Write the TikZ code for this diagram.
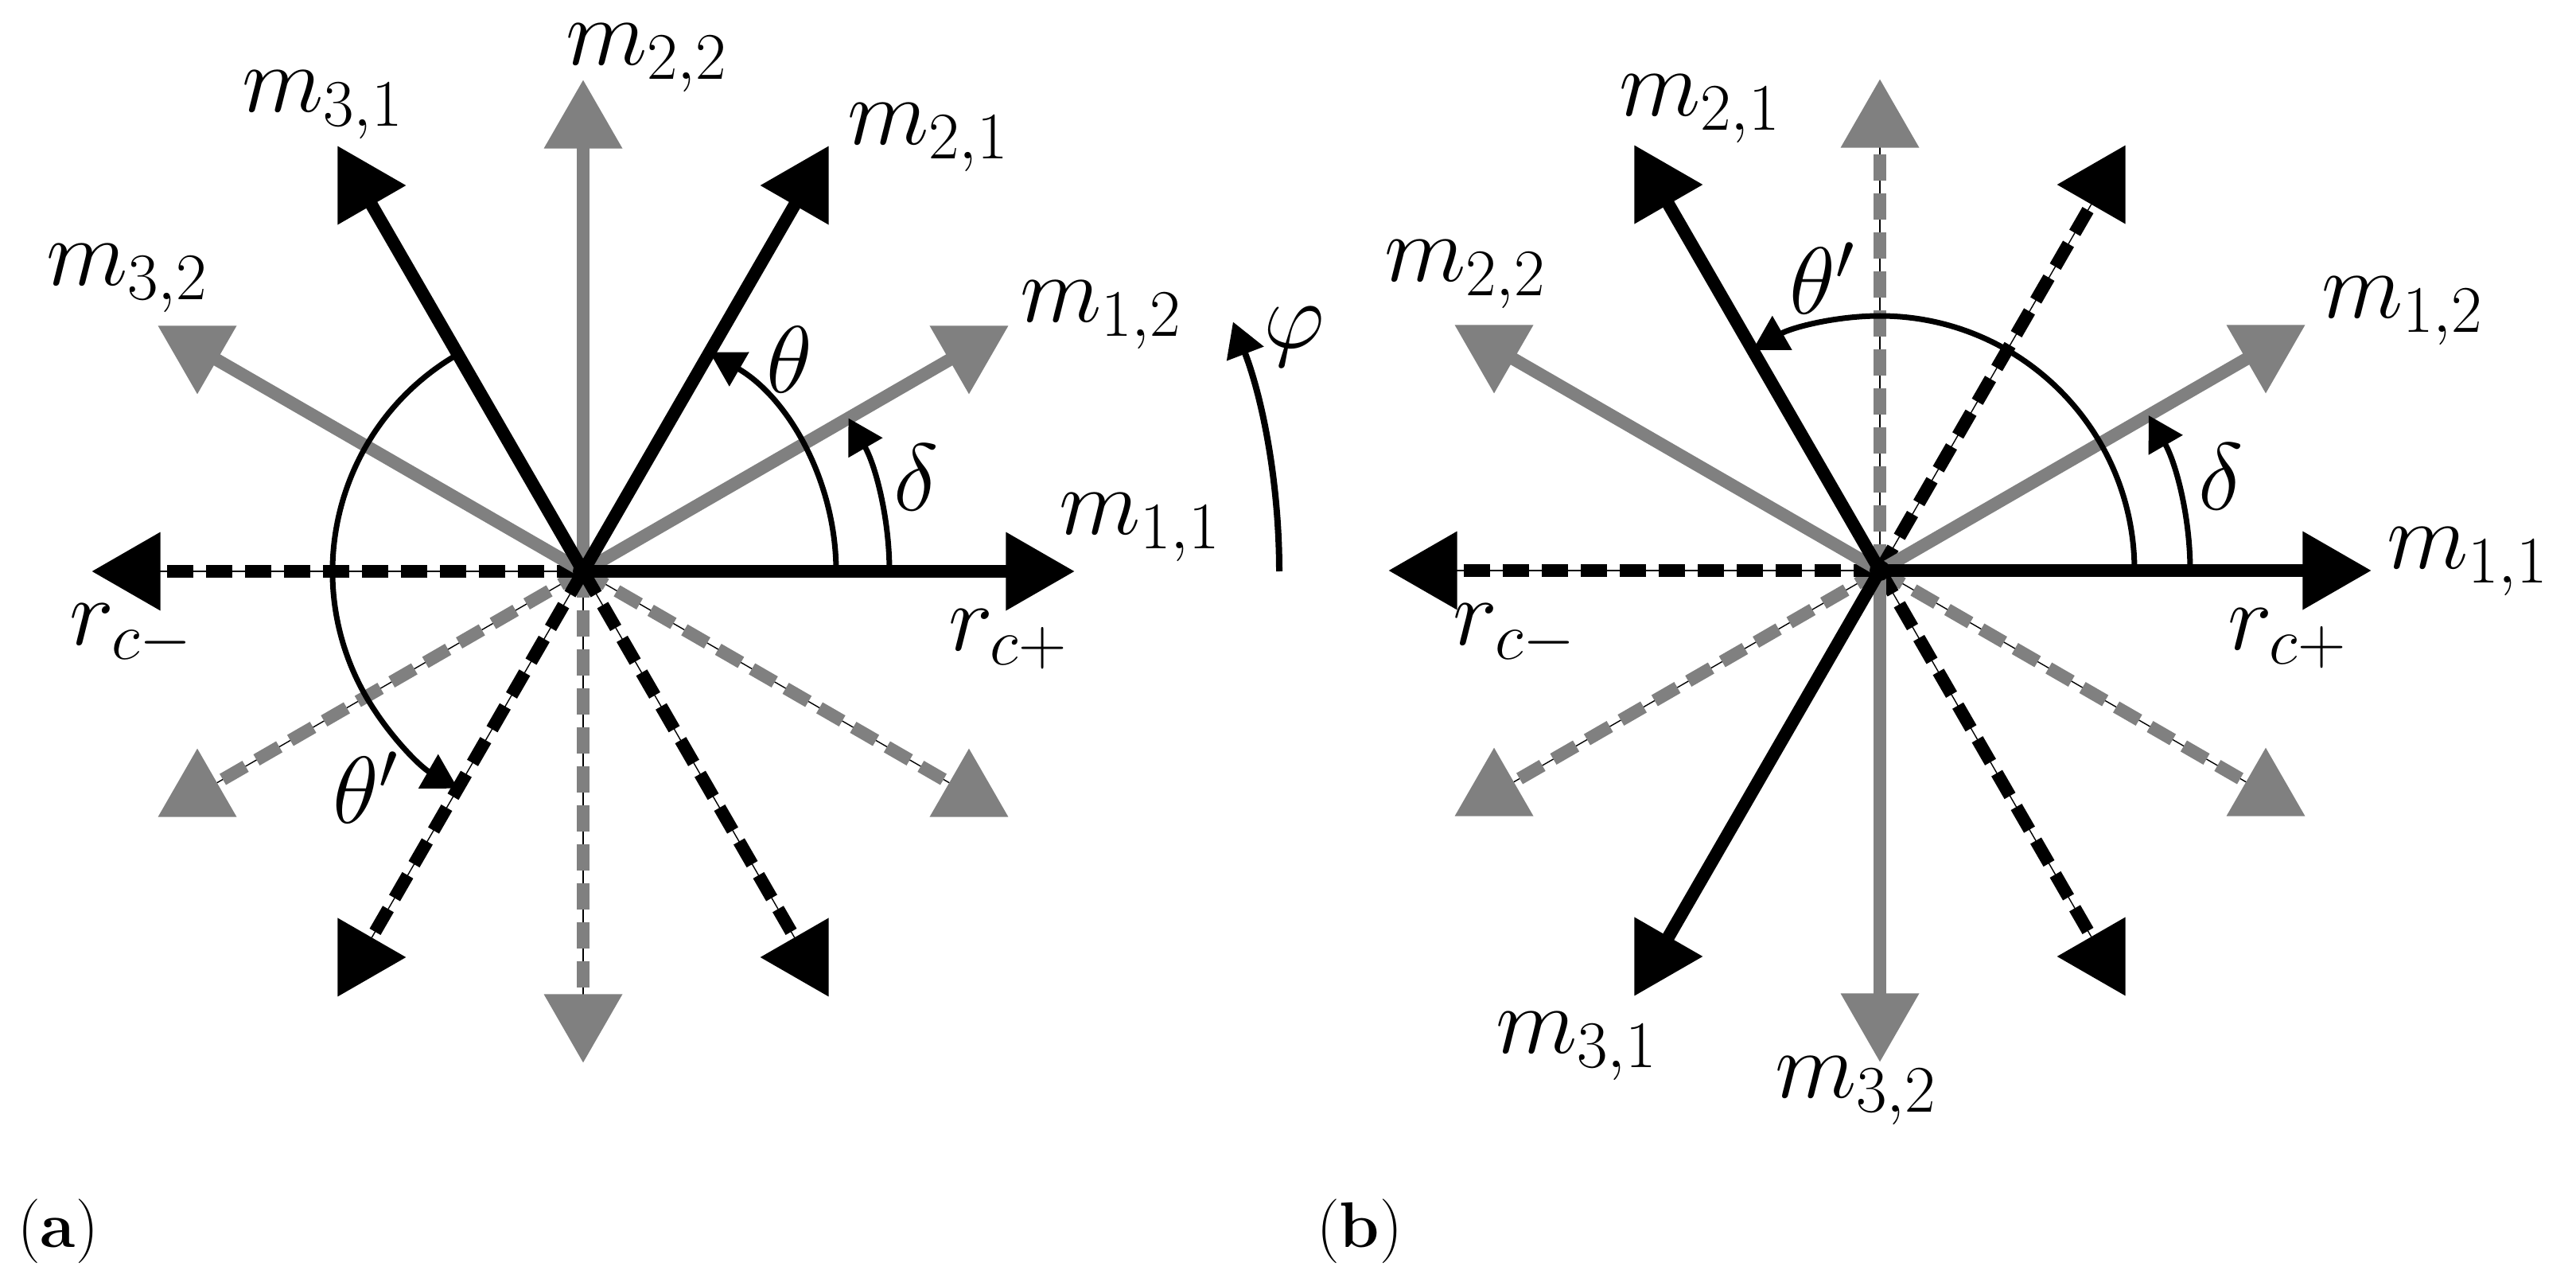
\RequirePackage{fix-cm}
\documentclass[tikz,border=0pt]{standalone}
\usetikzlibrary{arrows.meta,calc}
\definecolor{rg}{RGB}{128,128,128}
\definecolor{thin}{RGB}{175,175,175}
\tikzset{
  lbl/.style={font=\fontsize{34}{40}\selectfont, inner sep=0pt},
  subcap/.style={font=\fontsize{23}{28}\selectfont, inner sep=0pt},
  solidray/.style={line width=0.16cm},
  dashray/.style={line width=0.16cm, dash pattern=on 0.33cm off 0.16cm},
  thinray/.style={line width=0.4pt, thin},
  angarc/.style={line width=0.07cm, -{Triangle[length=0.43cm,width=0.48cm]}},
}
% #1 centre, #2 angle, #3 colour, #4 dashed (1) or solid (0)
\newcommand\myray[4]{%
  \ifnum#4=1
    \draw[thinray] (#1) -- ++(#2:5.45);
    \draw[dashray,#3] (#1) -- ++(#2:5.45);
  \else
    \draw[solidray,#3] (#1) -- ++(#2:5.45);
  \fi
  \pgfmathsetmacro\myo{-3*#2}
  \fill[#3, shift={($(#1)+(#2:5.6)$)}, rotate=\myo] (0.573,0) -- (-0.287,0.495) -- (-0.287,-0.495) -- cycle;
}
\begin{document}
\begin{tikzpicture}
\useasboundingbox (0,0) rectangle (32.38,15.95);
\coordinate (A) at (7.33,8.77);
\coordinate (B) at (23.63,8.78);
% ---------- panel (a)
\foreach \a in {210,270,330}{\myray{A}{\a}{rg}{1}}
\foreach \a in {180,240,300}{\myray{A}{\a}{black}{1}}
\foreach \a in {30,90,150}{\myray{A}{\a}{rg}{0}}
\foreach \a in {0,60,120}{\myray{A}{\a}{black}{0}}
\fill (A) circle (0.13);
\draw[angarc] ($(A)+(0:3.18)$) arc (0:60:3.18);
\draw[angarc] ($(A)+(0:3.85)$) arc (0:30:3.85);
\draw[angarc] ($(A)+(120:3.15)$) arc (120:240:3.15);
\draw[line width=0.08cm, -{Triangle[length=0.43cm,width=0.48cm]}] ($(A)+(0:8.75)$) arc (0:21:8.75);
\node[lbl] (a22) at (8.13,15.22) {$m_{2,2}$};
\node[lbl] (a31) at (4.06,14.63) {$m_{3,1}$};
\node[lbl] (a21) at (11.67,14.22) {$m_{2,1}$};
\node[lbl] (a32) at (1.60,12.45) {$m_{3,2}$};
\node[lbl] (a12) at (13.84,11.99) {$m_{1,2}$};
\node[lbl] (a11) at (14.33,9.32) {$m_{1,1}$};
\node[lbl] (arp) at (12.67,7.92) {$r_{c+}$};
\node[lbl] (arm) at (1.65,7.98) {$r_{c-}$};
\node[lbl] (ath) at (9.92,11.43) {$\theta$};
\node[lbl] (ade) at (11.52,9.95) {$\delta$};
\node[lbl] (athp) at (4.60,6.05) {$\theta'$};
\node[lbl] (aphi) at (16.27,11.72) {$\varphi$};
\node[subcap] (capa) at (0.73,0.48) {(\textbf{a})};
% ---------- panel (b)
\foreach \a in {90,210,330}{\myray{B}{\a}{rg}{1}}
\foreach \a in {60,180,300}{\myray{B}{\a}{black}{1}}
\foreach \a in {30,150,270}{\myray{B}{\a}{rg}{0}}
\foreach \a in {0,120,240}{\myray{B}{\a}{black}{0}}
\fill (B) circle (0.13);
\draw[angarc] ($(B)+(0:3.2)$) arc (0:120:3.2);
\draw[angarc] ($(B)+(0:3.9)$) arc (0:30:3.9);
\node[lbl] (b21) at (21.37,14.58) {$m_{2,1}$};
\node[lbl] (b22) at (18.42,12.50) {$m_{2,2}$};
\node[lbl] (bthp) at (22.91,12.45) {$\theta'$};
\node[lbl] (b12) at (30.20,12.04) {$m_{1,2}$};
\node[lbl] (bde) at (27.92,9.96) {$\delta$};
\node[lbl] (b11) at (31.02,8.89) {$m_{1,1}$};
\node[lbl] (brp) at (28.75,7.93) {$r_{c+}$};
\node[lbl] (brm) at (19.04,7.98) {$r_{c-}$};
\node[lbl] (b31) at (19.82,2.80) {$m_{3,1}$};
\node[lbl] (b32) at (23.33,2.24) {$m_{3,2}$};
\node[subcap] (capb) at (17.09,0.48) {(\textbf{b})};
\end{tikzpicture}
\end{document}
